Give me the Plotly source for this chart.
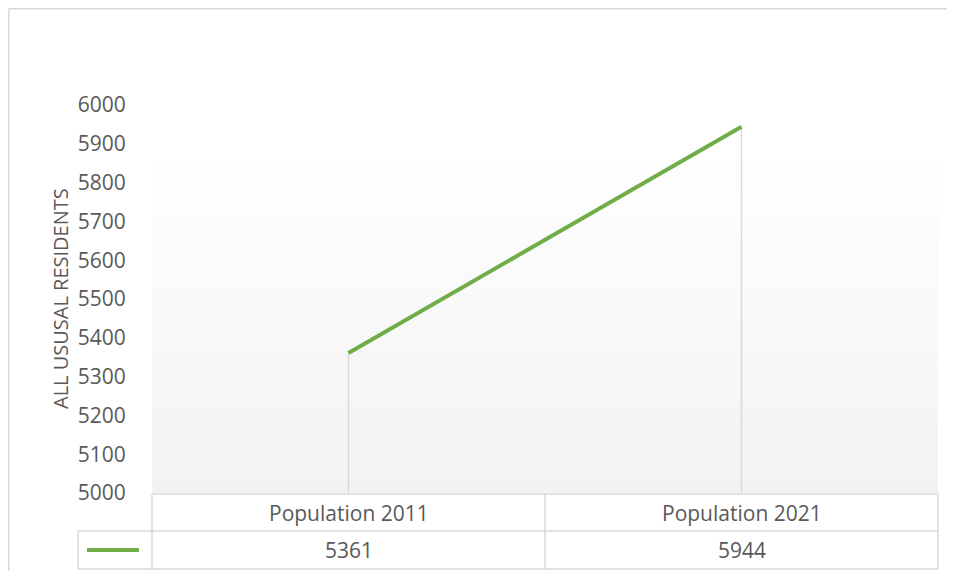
import plotly.graph_objects as go

categories = ["Population 2011", "Population 2021"]
values = [5361, 5944]
y_ticks = [5000, 5100, 5200, 5300, 5400, 5500, 5600, 5700, 5800, 5900, 6000]
y_title = "ALL USUSAL RESIDENTS"

OFF = 8  # page body margin
W, H = 955 - 2 * OFF, 579 - 2 * OFF
# screen-space plot area
L, R, T, B = 152, 938, 105, 493
pw, ph = R - L, B - T

def px(x):
    return (x - L) / pw

def py(y):
    return (B - y) / ph

GRID = "#d9d9d9"
TXT = "#595959"
GREEN = "#70ad47"
FONT = "Open Sans"

fig = go.Figure()

# drop lines
for c, v in zip(categories, values):
    fig.add_trace(go.Scatter(x=[c, c], y=[y_ticks[0], v], mode="lines",
                             line=dict(color=GRID, width=1.5), hoverinfo="skip", showlegend=False))

fig.add_trace(go.Scatter(x=categories, y=values, mode="lines",
                         line=dict(color=GREEN, width=4), showlegend=False))

shapes = []
# gradient background
n = 60
g_top, g_bot = 150, 493
for i in range(n):
    y0 = g_top + (g_bot - g_top) * i / n
    y1 = g_top + (g_bot - g_top) * (i + 1) / n
    t = (i + 0.5) / n
    c = round(255 - (255 - 242) * t)
    col = f"rgb({c},{c},{c})"
    shapes.append(dict(type="rect", xref="paper", yref="paper", x0=0, x1=1,
                       y0=py(y1), y1=py(y0), fillcolor=col, line=dict(width=0), layer="below"))

def hline(x0, x1, y):
    shapes.append(dict(type="line", xref="paper", yref="paper", x0=px(x0), x1=px(x1),
                       y0=py(y), y1=py(y), line=dict(color=GRID, width=1.5)))

def vline(x, y0, y1):
    shapes.append(dict(type="line", xref="paper", yref="paper", x0=px(x), x1=px(x),
                       y0=py(y0), y1=py(y1), line=dict(color=GRID, width=1.5)))

# outer border (top and left edges visible)
hline(OFF + 0.8, 960, OFF + 0.8)
vline(OFF + 0.8, OFF + 0.8, 590)

# data table
mid = (L + R) / 2
hline(L, R, 494)
hline(78, R, 531)
hline(78, R, 569)
vline(L, 494, 569)
vline(mid, 494, 569)
vline(R, 494, 569)
vline(78, 531, 569)

# legend key
shapes.append(dict(type="line", xref="paper", yref="paper", x0=px(87), x1=px(139),
                   y0=py(550), y1=py(550), line=dict(color=GREEN, width=4)))

annotations = []
for i, (c, v) in enumerate(zip(categories, values)):
    cx = L + pw * (i + 0.5) / len(categories)
    annotations.append(dict(text=c, x=px(cx), y=py(513), xref="paper", yref="paper",
                            showarrow=False, xanchor="center", yanchor="middle",
                            font=dict(family=FONT, size=21, color=TXT)))
    annotations.append(dict(text=str(v), x=px(cx), y=py(550), xref="paper", yref="paper",
                            showarrow=False, xanchor="center", yanchor="middle",
                            font=dict(family=FONT, size=21, color=TXT)))

annotations.append(dict(text=y_title, x=px(60), y=py(299), xref="paper", yref="paper",
                        showarrow=False, textangle=-90, xanchor="center", yanchor="middle",
                        font=dict(family=FONT, size=20, color=TXT)))

fig.update_layout(
    width=W, height=H,
    margin=dict(l=L - OFF, r=W - (R - OFF), t=T - OFF, b=H - (B - OFF)),
    paper_bgcolor="white", plot_bgcolor="rgba(0,0,0,0)",
    shapes=shapes, annotations=annotations,
    showlegend=False,
)
fig.update_xaxes(type="category", range=[-0.5, len(categories) - 0.5], showticklabels=False,
                 showgrid=False, zeroline=False, showline=False, ticks="")
fig.update_yaxes(range=[y_ticks[0], y_ticks[-1]], tickvals=y_ticks, showgrid=False, zeroline=False,
                 showline=False, ticks="outside", ticklen=21, tickcolor="rgba(0,0,0,0)",
                 tickfont=dict(family=FONT, size=21, color=TXT))

fig.write_html("out.html")
